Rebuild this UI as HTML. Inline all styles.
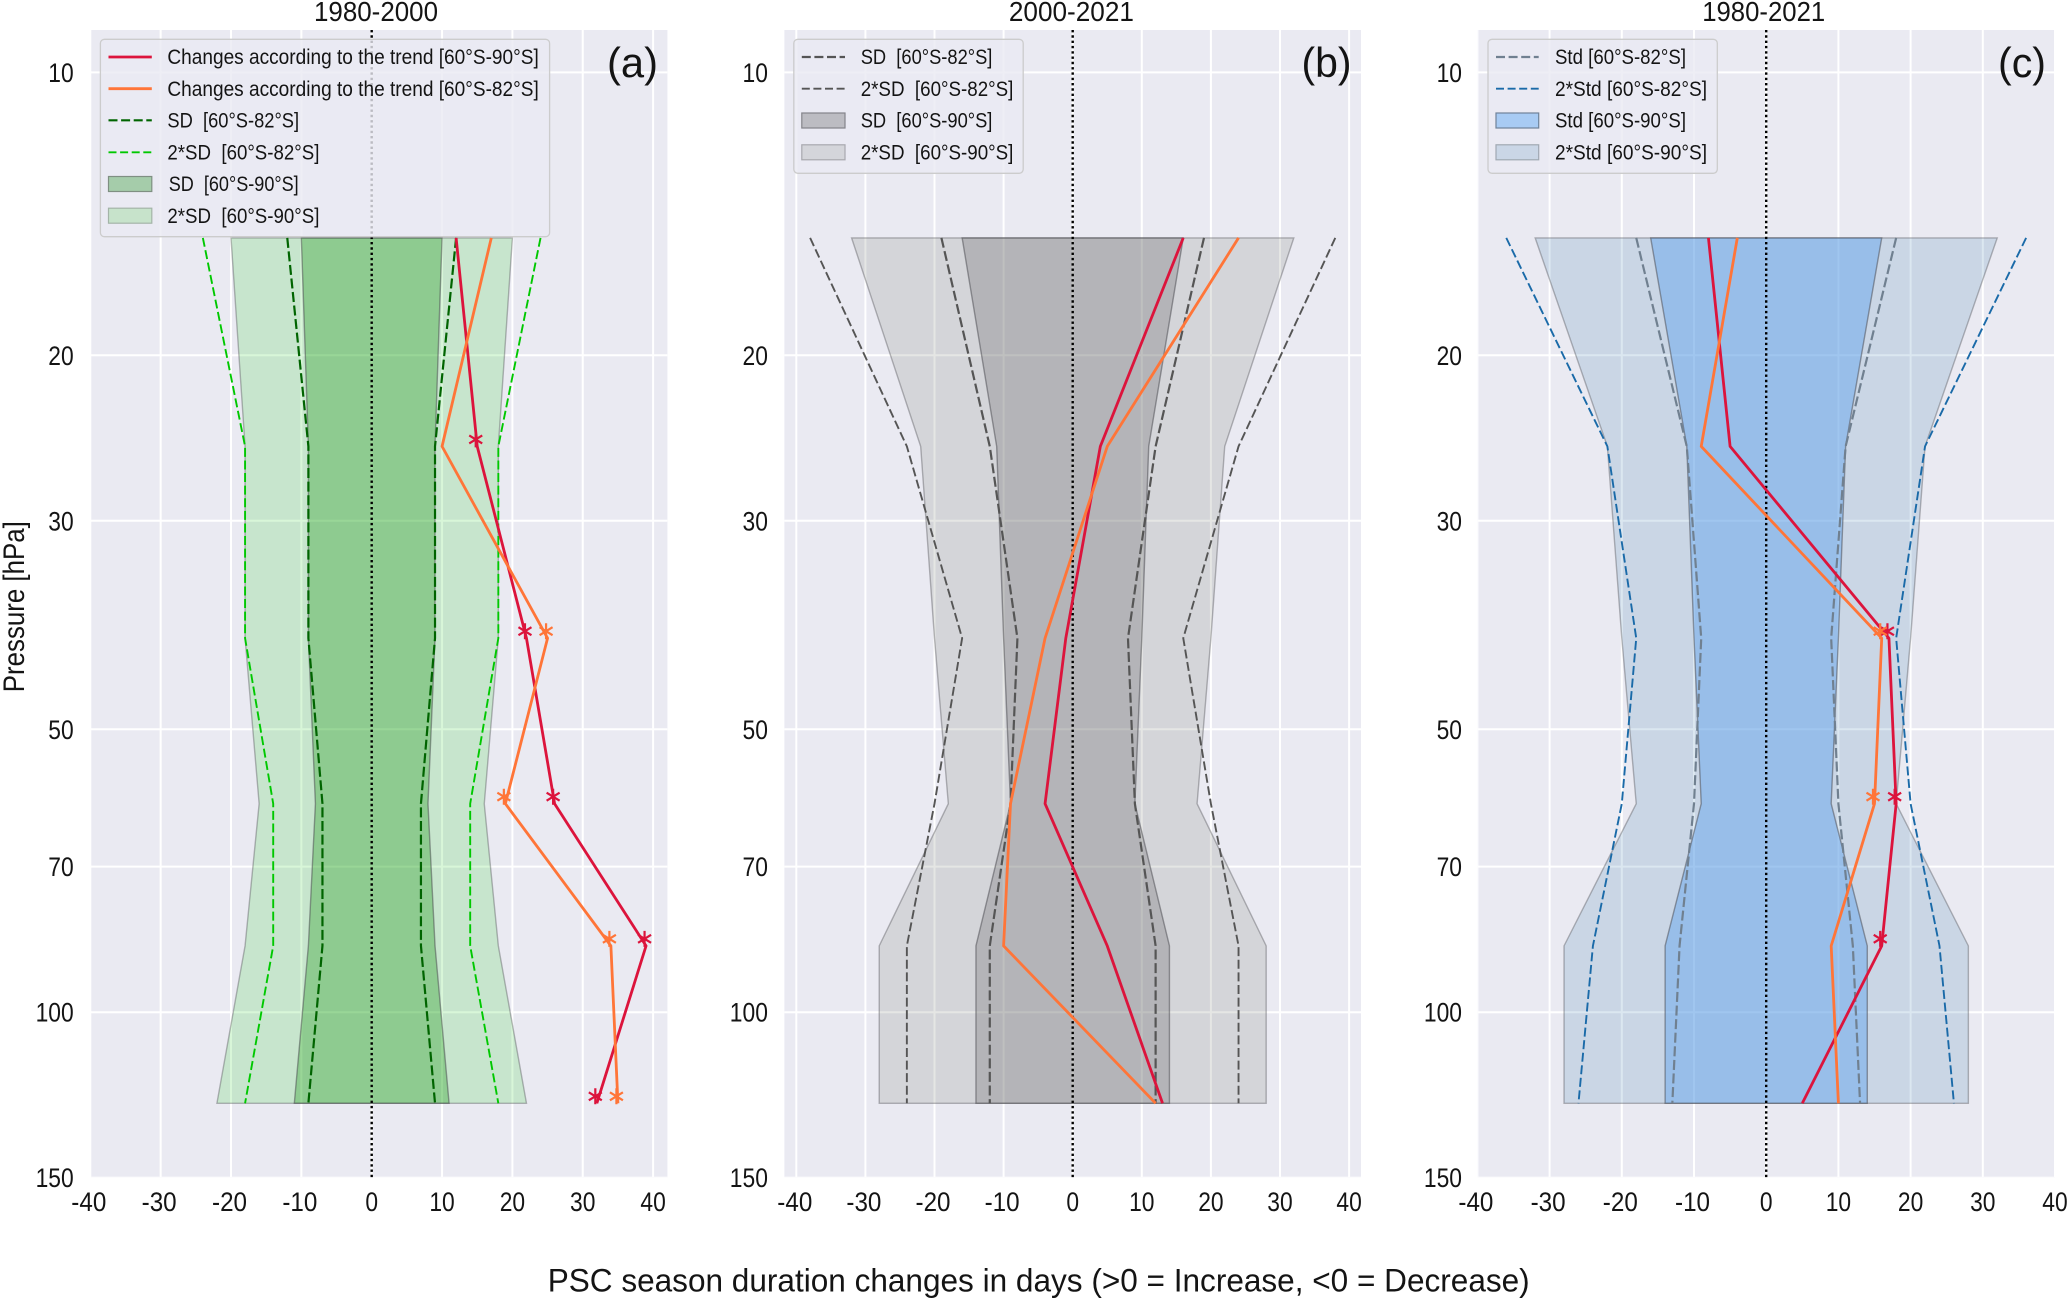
<!DOCTYPE html>
<html lang="en">
<head>
<meta charset="utf-8">
<title>PSC season duration changes</title>
<style>
html,body{margin:0;padding:0;background:#fff;}
svg{display:block;}
text{font-family:"Liberation Sans",sans-serif;fill:#141414;}
</style>
</head>
<body>
<svg id="chart" xmlns="http://www.w3.org/2000/svg" width="2067" height="1301" viewBox="0 0 2067 1301">
  <defs>
    <clipPath id="clip-a"><rect x="91" y="30" width="576.4" height="1147.3"/></clipPath>
    <clipPath id="clip-b"><rect x="784.4" y="30" width="576.6" height="1147.3"/></clipPath>
    <clipPath id="clip-c"><rect x="1477.8" y="30" width="577.2" height="1147.3"/></clipPath>
  </defs>

  <g id="panel-a">
    <rect x="91" y="30" width="576.4" height="1147.3" fill="#eaeaf2"/>
    <g id="marks-a" clip-path="url(#clip-a)"></g>
    <g id="ticks-a"></g>
    <text x="376" y="21" font-size="28" text-anchor="middle" textLength="124" lengthAdjust="spacingAndGlyphs">1980-2000</text>
    <g>
      <rect x="100.4" y="39.3" width="449.2" height="197.4" rx="4" fill="#eaeaf2" fill-opacity="0.8" stroke="#cccccc" stroke-width="1.3"/>
      <line x1="108.5" x2="151.8" y1="57" y2="57" stroke="#dc143c" stroke-width="2.8"/>
      <text x="167.4" y="64" font-size="21" textLength="371.4" lengthAdjust="spacingAndGlyphs">Changes according to the trend [60°S-90°S]</text>
      <line x1="108.5" x2="151.8" y1="88.7" y2="88.7" stroke="#ff7538" stroke-width="2.8"/>
      <text x="167.4" y="96" font-size="21" textLength="371.4" lengthAdjust="spacingAndGlyphs">Changes according to the trend [60°S-82°S]</text>
      <line x1="108.5" x2="151.8" y1="120.3" y2="120.3" stroke="#006400" stroke-width="2.2" stroke-dasharray="9 3.6"/>
      <text x="167.4" y="127.5" font-size="21" xml:space="preserve" textLength="131.7" lengthAdjust="spacingAndGlyphs">SD  [60°S-82°S]</text>
      <line x1="108.5" x2="151.8" y1="152.3" y2="152.3" stroke="#00c800" stroke-width="1.9" stroke-dasharray="8 3.6"/>
      <text x="167.4" y="159.5" font-size="21" xml:space="preserve" textLength="152" lengthAdjust="spacingAndGlyphs">2*SD  [60°S-82°S]</text>
      <rect x="108.5" y="176.5" width="43.3" height="15" fill="#a5ccaa" stroke="#7f8f82" stroke-width="1.2"/>
      <text x="168.7" y="191" font-size="21" xml:space="preserve" textLength="130" lengthAdjust="spacingAndGlyphs">SD  [60°S-90°S]</text>
      <rect x="108.5" y="208.2" width="43.3" height="15" fill="#c7e3cb" stroke="#a4b4a8" stroke-width="1.2"/>
      <text x="167.4" y="223" font-size="21" xml:space="preserve" textLength="152" lengthAdjust="spacingAndGlyphs">2*SD  [60°S-90°S]</text>
    </g>
    <text x="607" y="77" font-size="42" textLength="51" lengthAdjust="spacingAndGlyphs">(a)</text>
  </g>

  <g id="panel-b">
    <rect x="784.4" y="30" width="576.6" height="1147.3" fill="#eaeaf2"/>
    <g id="marks-b" clip-path="url(#clip-b)"></g>
    <g id="ticks-b"></g>
    <text x="1071.4" y="21" font-size="28" text-anchor="middle" textLength="125" lengthAdjust="spacingAndGlyphs">2000-2021</text>
    <g>
      <rect x="793.8" y="39.3" width="229.4" height="134" rx="4" fill="#eaeaf2" fill-opacity="0.8" stroke="#cccccc" stroke-width="1.3"/>
      <line x1="801.8" x2="845" y1="57" y2="57" stroke="#555555" stroke-width="2.2" stroke-dasharray="9 3.6"/>
      <text x="860.7" y="64" font-size="21" xml:space="preserve" textLength="131.7" lengthAdjust="spacingAndGlyphs">SD  [60°S-82°S]</text>
      <line x1="801.8" x2="845" y1="88.7" y2="88.7" stroke="#555555" stroke-width="1.9" stroke-dasharray="8 3.6"/>
      <text x="860.7" y="96" font-size="21" xml:space="preserve" textLength="152.7" lengthAdjust="spacingAndGlyphs">2*SD  [60°S-82°S]</text>
      <rect x="801.8" y="113" width="43.2" height="15" fill="#bcbcc2" stroke="#84848a" stroke-width="1.2"/>
      <text x="860.7" y="127.5" font-size="21" xml:space="preserve" textLength="131.7" lengthAdjust="spacingAndGlyphs">SD  [60°S-90°S]</text>
      <rect x="801.8" y="144.8" width="43.2" height="15" fill="#d4d5da" stroke="#a8a8ae" stroke-width="1.2"/>
      <text x="860.7" y="159.5" font-size="21" xml:space="preserve" textLength="152.7" lengthAdjust="spacingAndGlyphs">2*SD  [60°S-90°S]</text>
    </g>
    <text x="1301.5" y="77" font-size="42" textLength="50" lengthAdjust="spacingAndGlyphs">(b)</text>
  </g>

  <g id="panel-c">
    <rect x="1477.8" y="30" width="577.2" height="1147.3" fill="#eaeaf2"/>
    <g id="marks-c" clip-path="url(#clip-c)"></g>
    <g id="ticks-c"></g>
    <text x="1763.7" y="21" font-size="28" text-anchor="middle" textLength="123" lengthAdjust="spacingAndGlyphs">1980-2021</text>
    <g>
      <rect x="1488" y="39.3" width="229.3" height="134" rx="4" fill="#eaeaf2" fill-opacity="0.8" stroke="#cccccc" stroke-width="1.3"/>
      <line x1="1496" x2="1538.7" y1="57" y2="57" stroke="#708090" stroke-width="2.2" stroke-dasharray="9 3.6"/>
      <text x="1555" y="64" font-size="21" textLength="131" lengthAdjust="spacingAndGlyphs">Std [60°S-82°S]</text>
      <line x1="1496" x2="1538.7" y1="88.7" y2="88.7" stroke="#1a6aa8" stroke-width="1.9" stroke-dasharray="8 3.6"/>
      <text x="1555" y="96" font-size="21" textLength="152" lengthAdjust="spacingAndGlyphs">2*Std [60°S-82°S]</text>
      <rect x="1496" y="113" width="42.7" height="15" fill="#a8cbf3" stroke="#6f8299" stroke-width="1.2"/>
      <text x="1555" y="127.5" font-size="21" textLength="131" lengthAdjust="spacingAndGlyphs">Std [60°S-90°S]</text>
      <rect x="1496" y="144.8" width="42.7" height="15" fill="#cad6e6" stroke="#a0a8b2" stroke-width="1.2"/>
      <text x="1555" y="159.5" font-size="21" textLength="152" lengthAdjust="spacingAndGlyphs">2*Std [60°S-90°S]</text>
    </g>
    <text x="1998" y="77" font-size="42" textLength="48" lengthAdjust="spacingAndGlyphs">(c)</text>
  </g>

  <text transform="translate(24 606.7) rotate(-90)" font-size="30" text-anchor="middle" textLength="171" lengthAdjust="spacingAndGlyphs">Pressure [hPa]</text>
  <text x="547.7" y="1291.7" font-size="32" textLength="982" lengthAdjust="spacingAndGlyphs">PSC season duration changes in days (&gt;0 = Increase, &lt;0 = Decrease)</text>
</svg>

<script>
// ---- shared axis data ----
var pressureLevels = [15, 25, 40, 60, 85, 125];
var xTickValues = [-40, -30, -20, -10, 0, 10, 20, 30, 40];
var yTickValues = [10, 20, 30, 50, 70, 100, 150];

// ---- panel (a) 1980-2000 ----
var aTrend90 = [12, 15, 22, 26, 39, 32];
var aTrend82 = [17, 10, 25, 19, 34, 35];
var aSig90 = [0, 1, 1, 1, 1, 1];
var aSig82 = [0, 0, 1, 1, 1, 1];
var aSd82 = [12, 9, 9, 7, 7, 9];
var a2Sd82 = [24, 18, 18, 14, 14, 18];
var aSd90 = [10, 9, 9, 8, 9, 11];
var a2Sd90 = [20, 18, 18, 16, 18, 22];

// ---- panel (b) 2000-2021 ----
var bTrend90 = [16, 4, -1, -4, 5, 13];
var bTrend82 = [24, 5, -4, -9, -10, 12];
var bSig90 = [0, 0, 0, 0, 0, 0];
var bSig82 = [0, 0, 0, 0, 0, 0];
var bSd82 = [19, 12, 8, 9, 12, 12];
var b2Sd82 = [38, 24, 16, 20, 24, 24];
var bSd90 = [16, 11, 10, 9, 14, 14];
var b2Sd90 = [32, 22, 20, 18, 28, 28];

// ---- panel (c) 1980-2021 ----
var cTrend90 = [-8, -5, 17, 18, 16, 5];
var cTrend82 = [-4, -9, 16, 15, 9, 10];
var cSig90 = [0, 0, 1, 1, 1, 0];
var cSig82 = [0, 0, 1, 1, 0, 0];
var cSd82 = [18, 11, 9, 10, 12, 13];
var c2Sd82 = [36, 22, 18, 20, 24, 26];
var cSd90 = [16, 11, 10, 9, 14, 14];
var c2Sd90 = [32, 22, 20, 18, 28, 28];

var NS = 'http://www.w3.org/2000/svg';

function yScale(p) {
  return 72.4 + 939.8 * Math.log10(p / 10);
}

function make(tag, parent, attrs) {
  var el = document.createElementNS(NS, tag);
  for (var k in attrs) { el.setAttribute(k, attrs[k]); }
  parent.appendChild(el);
  return el;
}

function drawPanel(cfg) {
  var g = document.getElementById('marks-' + cfg.id);
  var t = document.getElementById('ticks-' + cfg.id);
  var xScale = function (v) { return cfg.x0 + cfg.k * v; };
  var i, el;

  yTickValues.forEach(function (p) {
    var line = make('line', g, {x1: cfg.left, x2: cfg.right, y1: yScale(p), y2: yScale(p), stroke: '#ffffff', 'stroke-width': 2});
    
    
    var label = make('text', t, {x: cfg.labelRight, y: yScale(p) + 9.5, 'font-size': 27, 'text-anchor': 'end', textLength: String(p).length * 12.7, lengthAdjust: 'spacingAndGlyphs'});
    label.textContent = p;
    
    
  });

  xTickValues.forEach(function (v) {
    var line = make('line', g, {x1: xScale(v), x2: xScale(v), y1: 30, y2: 1177.3, stroke: '#ffffff', 'stroke-width': 2});
    
    
    var s = String(v);
    var w = v < 0 ? (s.length - 1) * 12.7 + 9.6 : s.length * 12.7;
    var label = make('text', t, {x: xScale(v) - (v < 0 ? 1.5 : 0), y: 1211, 'font-size': 27, 'text-anchor': 'middle', textLength: w, lengthAdjust: 'spacingAndGlyphs'});
    label.textContent = s;
    
    
  });

  function bandPath(half) {
    var right = pressureLevels.map(function (p, j) { return xScale(half[j]) + ',' + yScale(p); });
    var left = pressureLevels.map(function (p, j) { return xScale(-half[j]) + ',' + yScale(p); }).reverse();
    return 'M' + right.concat(left).join('L') + 'Z';
  }

  var wide = make('path', g, {d: bandPath(cfg.wide), fill: cfg.wideFill, 'fill-opacity': cfg.wideAlpha, stroke: 'rgb(80,80,85)', 'stroke-opacity': 0.4, 'stroke-width': 1.4});
  
  
  var narrow = make('path', g, {d: bandPath(cfg.narrow), fill: cfg.narrowFill, 'fill-opacity': cfg.narrowAlpha, stroke: 'rgb(70,70,75)', 'stroke-opacity': 0.5, 'stroke-width': 1.4});
  
  

  function dashed(half, sign, color, width, dash, name) {
    var pts = pressureLevels.map(function (p, j) { return xScale(sign * half[j]) + ',' + yScale(p); });
    var d = make('path', g, {d: 'M' + pts.join('L'), fill: 'none', stroke: color, 'stroke-width': width, 'stroke-dasharray': dash});
    
    
  }
  dashed(cfg.sd, -1, cfg.sdColor, 2.2, '10 3.6', 'sd-line-60-82-lower');
  dashed(cfg.sd, 1, cfg.sdColor, 2.2, '10 3.6', 'sd-line-60-82-upper');
  dashed(cfg.sd2, -1, cfg.sd2Color, 1.9, '9 3.6', 'two-sd-line-60-82-lower');
  dashed(cfg.sd2, 1, cfg.sd2Color, 1.9, '9 3.6', 'two-sd-line-60-82-upper');

  var zero = make('line', g, {x1: xScale(0), x2: xScale(0), y1: 30, y2: 1177.3, stroke: '#000000', 'stroke-width': 2.4, 'stroke-dasharray': '2.4 2.9'});
  
  

  function trend(values, sig, color, name) {
    var pts = pressureLevels.map(function (p, j) { return xScale(values[j]) + ',' + yScale(p); });
    var line = make('path', g, {d: 'M' + pts.join('L'), fill: 'none', stroke: color, 'stroke-width': 2.8, 'stroke-linejoin': 'round'});
    
    
    for (i = 0; i < values.length; i++) {
      if (!sig[i]) { continue; }
      var cx = xScale(values[i]) - 1.5;
      var cy = yScale(pressureLevels[i]) - 7;
      var star = make('path', g, {
        d: 'M' + cx + ',' + (cy - 8) + 'L' + cx + ',' + (cy + 8) +
           'M' + (cx - 6.5) + ',' + (cy - 4) + 'L' + (cx + 6.5) + ',' + (cy + 4) +
           'M' + (cx - 6.5) + ',' + (cy + 4) + 'L' + (cx + 6.5) + ',' + (cy - 4),
        fill: 'none', stroke: color, 'stroke-width': 2.2
      });
      
      
    }
  }
  trend(cfg.t90, cfg.s90, '#dc143c', 'trend-line-60-90');
  trend(cfg.t82, cfg.s82, '#ff7538', 'trend-line-60-82');
}

drawPanel({id: 'a', left: 91, right: 667.4, x0: 371.7, k: 7.035, labelRight: 73.7,
  t90: aTrend90, t82: aTrend82, s90: aSig90, s82: aSig82, sd: aSd82, sd2: a2Sd82, narrow: aSd90, wide: a2Sd90,
  wideFill: 'rgb(59,209,62)', wideAlpha: 0.2, narrowFill: 'rgb(36,155,32)', narrowAlpha: 0.35,
  sdColor: '#006400', sd2Color: '#00c800'});
drawPanel({id: 'b', left: 784.4, right: 1361, x0: 1072.7, k: 6.91, labelRight: 767.9,
  t90: bTrend90, t82: bTrend82, s90: bSig90, s82: bSig82, sd: bSd82, sd2: b2Sd82, narrow: bSd90, wide: b2Sd90,
  wideFill: 'rgb(124,129,122)', wideAlpha: 0.2, narrowFill: 'rgb(120,119,124)', narrowAlpha: 0.35,
  sdColor: '#555555', sd2Color: '#555555'});
drawPanel({id: 'c', left: 1477.8, right: 2055, x0: 1766.2, k: 7.22, labelRight: 1462,
  t90: cTrend90, t82: cTrend82, s90: cSig90, s82: cSig82, sd: cSd82, sd2: c2Sd82, narrow: cSd90, wide: c2Sd90,
  wideFill: 'rgb(74,134,182)', wideAlpha: 0.2, narrowFill: 'rgb(102,166,238)', narrowAlpha: 0.5,
  sdColor: '#708090', sd2Color: '#1a6aa8'});
</script>
</body>
</html>
